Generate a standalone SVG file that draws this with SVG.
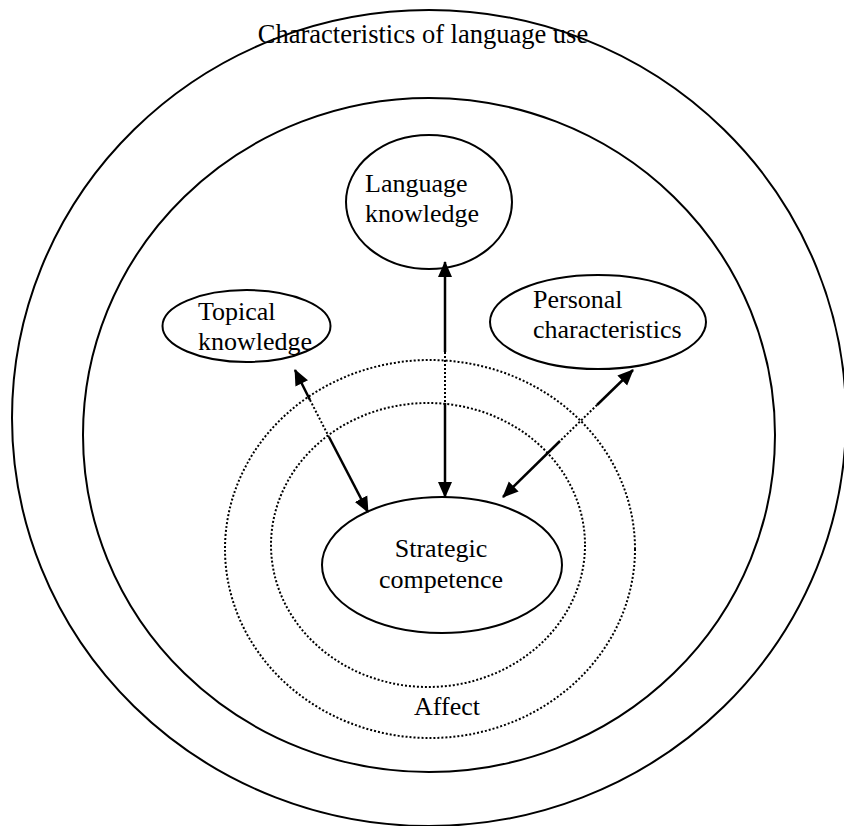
<svg xmlns="http://www.w3.org/2000/svg" width="844" height="826" viewBox="0 0 844 826">
  <style>
    .ring { fill: none; stroke: #000; stroke-width: 2; }
    .dotring { fill: none; stroke: #000; stroke-width: 2; stroke-dasharray: 2 2; }
    .node { fill: #fff; stroke: #000; stroke-width: 2; }
    .lbl { font-family: "Liberation Serif", "Times New Roman", serif; font-size: 26px; fill: #000; }
    .solid { fill: none; stroke: #000; stroke-width: 2.5; }
    .dots { fill: none; stroke: #000; stroke-width: 2; stroke-dasharray: 2 2; }
  </style>
  <defs>
    <marker id="head" markerUnits="userSpaceOnUse" markerWidth="16" markerHeight="16" viewBox="0 0 16 14" refX="15" refY="7" orient="auto-start-reverse">
      <path d="M0,0 L16,7 L0,14 z" fill="#000"/>
    </marker>
  </defs>

  <rect width="844" height="826" fill="#fff"/>

  <!-- context rings -->
  <g id="language-use">
    <ellipse class="ring" cx="429" cy="418" rx="417" ry="408"/>
    <text class="lbl" x="423" y="43" text-anchor="middle" style="font-size:26.5px">Characteristics of language use</text>
  </g>
  <ellipse id="inner-ring" class="ring" cx="429" cy="435" rx="346" ry="337"/>

  <!-- affect rings -->
  <g id="affect">
    <ellipse class="dotring" cx="430" cy="549" rx="205" ry="189"/>
    <ellipse class="dotring" cx="428" cy="545" rx="157" ry="142"/>
    <text class="lbl" x="447" y="715" text-anchor="middle">Affect</text>
  </g>

  <!-- nodes -->
  <g id="language-knowledge">
    <ellipse class="node" cx="429" cy="202" rx="83" ry="67"/>
    <text class="lbl" x="365" y="192">Language</text>
    <text class="lbl" x="365" y="222">knowledge</text>
  </g>
  <g id="topical-knowledge">
    <ellipse class="node" cx="246.5" cy="326" rx="84" ry="36"/>
    <text class="lbl" x="198" y="320">Topical</text>
    <text class="lbl" x="198" y="350">knowledge</text>
  </g>
  <g id="personal-characteristics">
    <ellipse class="node" cx="598" cy="322" rx="108" ry="47"/>
    <text class="lbl" x="533" y="308">Personal</text>
    <text class="lbl" x="533" y="338">characteristics</text>
  </g>
  <g id="strategic-competence">
    <ellipse class="node" cx="442" cy="565" rx="120" ry="68"/>
    <text class="lbl" x="441" y="557" text-anchor="middle">Strategic</text>
    <text class="lbl" x="441" y="588" text-anchor="middle">competence</text>
  </g>

  <!-- connectors: solid outside the affect band, dotted inside it -->
  <g id="connectors">
    <path class="solid" d="M445,262 L445,352" marker-start="url(#head)"/>
    <path class="dots" d="M445,352 L445,403"/>
    <path class="solid" d="M445,403 L445,497" marker-end="url(#head)"/>

    <path class="solid" d="M295,370 L310,400" marker-start="url(#head)"/>
    <path class="dots" d="M310,400 L329,437"/>
    <path class="solid" d="M329,437 L368,512" marker-end="url(#head)"/>

    <path class="solid" d="M633,370 L597,405" marker-start="url(#head)"/>
    <path class="dots" d="M597,405 L560,441"/>
    <path class="solid" d="M560,441 L503,497" marker-end="url(#head)"/>
  </g>
</svg>
